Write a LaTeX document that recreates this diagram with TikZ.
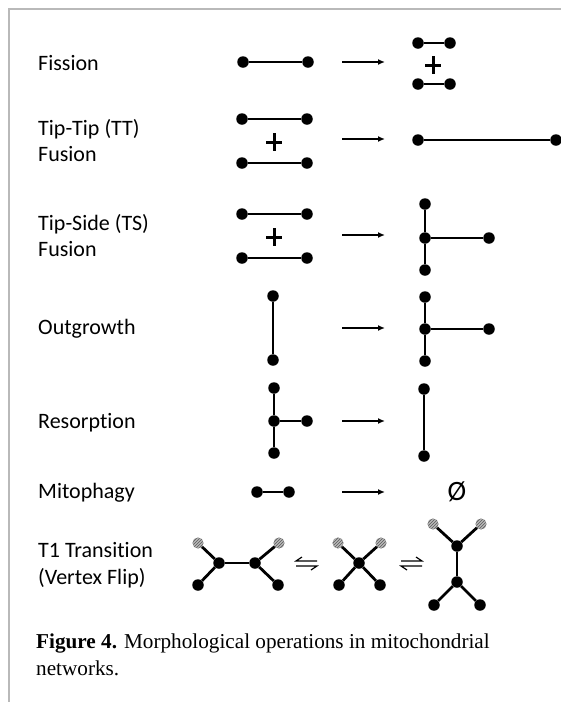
\documentclass[tikz,border=0pt]{standalone}
\usepackage{fontspec}
\setmainfont{Liberation Serif}
\newfontfamily\labelfont[Ligatures=NoCommon]{Carlito}
\usetikzlibrary{patterns,arrows.meta}

\begin{document}
\begin{tikzpicture}[x=1pt,y=-1pt,
  dot/.style={circle,fill=black,inner sep=0pt,minimum size=11.5pt},
  hdot/.style={circle,inner sep=0pt,minimum size=10.5pt,fill=gray!55,draw=gray!80,line width=0.6pt,
    postaction={pattern=north east lines,pattern color=black!65}},
  seg/.style={line width=2.8pt},
  arr/.style={-{Latex[length=7pt,width=6pt]},line width=1.8pt},
  plusmark/.style={line width=3pt},
  harp/.style={line width=1.2pt},
  lbl/.style={anchor=base west,inner sep=0pt,font=\labelfont\fontsize{22}{26}\selectfont},
  captext/.style={anchor=base west,inner sep=0pt,font=\fontsize{21.2}{25}\selectfont}
]
\useasboundingbox (0,0) rectangle (561,702);
% page frame
\draw[gray!55,line width=2pt] (9,702) -- (9,9) -- (561,9);

% ---------- labels ----------
\node[lbl] (lFis) at (38,70) {Fission};
\node[lbl] (lTT1) at (38,135) {Tip-Tip (TT)};
\node[lbl] (lTT2) at (38,161) {Fusion};
\node[lbl] (lTS1) at (38,230) {Tip-Side (TS)};
\node[lbl] (lTS2) at (38,256) {Fusion};
\node[lbl] (lOut) at (38,334) {Outgrowth};
\node[lbl] (lRes) at (38,428) {Resorption};
\node[lbl] (lMit) at (38,498) {Mitophagy};
\node[lbl] (lT11) at (38,557) {T1 Transition};
\node[lbl] (lT12) at (38,584) {(Vertex Flip)};

% ---------- arrows ----------
\foreach \n/\y in {a/62,b/139,c/235,d/328,e/421,f/492}{
  \coordinate (s\n) at (342,\y);
  \coordinate (t\n) at (385,\y);
  \draw[arr] (s\n) -- (t\n);
}

% ---------- Fission ----------
\node[dot] (fa) at (243,62) {};
\node[dot] (fb) at (308,62) {};
\draw[seg] (fa) -- (fb);
\node[dot] (fc) at (418,43) {};
\node[dot] (fd) at (450,43) {};
\draw[seg] (fc) -- (fd);
\node[dot] (fe) at (418,84) {};
\node[dot] (ff) at (450,84) {};
\draw[seg] (fe) -- (ff);
\draw[plusmark] (425,65) -- (441,65) (433,56) -- (433,74);

% ---------- Tip-Tip fusion ----------
\node[dot] (ta) at (242,119) {};
\node[dot] (tb) at (307,119) {};
\draw[seg] (ta) -- (tb);
\node[dot] (tc) at (242,163) {};
\node[dot] (td) at (307,163) {};
\draw[seg] (tc) -- (td);
\draw[plusmark] (266,142) -- (282,142) (274,133) -- (274,151);
\node[dot] (te) at (418,140) {};
\node[dot] (tf) at (556,140) {};
\draw[seg] (te) -- (tf);

% ---------- Tip-Side fusion ----------
\node[dot] (sa) at (242,214) {};
\node[dot] (sb) at (307,214) {};
\draw[seg] (sa) -- (sb);
\node[dot] (sc) at (242,258) {};
\node[dot] (sd) at (307,258) {};
\draw[seg] (sc) -- (sd);
\draw[plusmark] (266,237) -- (282,237) (274,228) -- (274,246);
\node[dot] (se) at (425,204) {};
\node[dot] (sf) at (425,238) {};
\node[dot] (sg) at (425,270) {};
\node[dot] (sh) at (489,238) {};
\draw[seg] (se) -- (sf) -- (sg);
\draw[seg] (sf) -- (sh);

% ---------- Outgrowth ----------
\node[dot] (oa) at (273,296) {};
\node[dot] (ob) at (273,360) {};
\draw[seg] (oa) -- (ob);
\node[dot] (oc) at (425,297) {};
\node[dot] (od) at (425,329) {};
\node[dot] (oe) at (425,361) {};
\node[dot] (of) at (489,329) {};
\draw[seg] (oc) -- (od) -- (oe);
\draw[seg] (od) -- (of);

% ---------- Resorption ----------
\node[dot] (ra) at (274,388) {};
\node[dot] (rb) at (274,421) {};
\node[dot] (rc) at (274,453) {};
\node[dot] (rd) at (307,421) {};
\draw[seg] (ra) -- (rb) -- (rc);
\draw[seg] (rb) -- (rd);
\node[dot] (re) at (424,389) {};
\node[dot] (rf) at (424,456) {};
\draw[seg] (re) -- (rf);

% ---------- Mitophagy ----------
\node[dot] (ma) at (257,492) {};
\node[dot] (mb) at (289,492) {};
\draw[seg] (ma) -- (mb);
\node[inner sep=0pt,font=\labelfont\fontsize{28}{30}\selectfont] (mz) at (457,492) {Ø};

% ---------- T1 transition ----------
% two vertices joined by a short edge
\node[hdot] (ah1) at (198,543) {};
\node[hdot] (ah2) at (279,543) {};
\node[dot] (avl) at (219,563) {};
\node[dot] (avr) at (255,563) {};
\node[dot] (ab1) at (198,585) {};
\node[dot] (ab2) at (278,585) {};
\draw[seg] (ah1) -- (avl) -- (ab1);
\draw[seg] (avl) -- (avr);
\draw[seg] (ah2) -- (avr) -- (ab2);
% leftwards harpoon over rightwards harpoon
\coordinate (h1a) at (296,561);
\coordinate (h1b) at (317,561);
\coordinate (h1c) at (296,566);
\coordinate (h1d) at (317,566);
\draw[harp] (h1b) -- (h1a) -- ++(6,-4);
\draw[harp] (h1c) -- (h1d) -- ++(-6,4);
% four-way vertex
\node[hdot] (bh1) at (338,543) {};
\node[hdot] (bh2) at (381,543) {};
\node[dot] (bc) at (359,563) {};
\node[dot] (bb1) at (339,585) {};
\node[dot] (bb2) at (380,585) {};
\draw[seg] (bh1) -- (bc) -- (bb2);
\draw[seg] (bh2) -- (bc) -- (bb1);
% rightwards harpoon over leftwards harpoon
\coordinate (h2a) at (401,561);
\coordinate (h2b) at (422,561);
\coordinate (h2c) at (401,566);
\coordinate (h2d) at (422,566);
\draw[harp] (h2a) -- (h2b) -- ++(-6,-4);
\draw[harp] (h2d) -- (h2c) -- ++(6,4);
% flipped edge, now vertical
\node[hdot] (ch1) at (433,524) {};
\node[hdot] (ch2) at (481,524) {};
\node[dot] (cvu) at (457,546) {};
\node[dot] (cvd) at (457,582) {};
\node[dot] (cb1) at (434,605) {};
\node[dot] (cb2) at (480,605) {};
\draw[seg] (ch1) -- (cvu) -- (ch2);
\draw[seg] (cvu) -- (cvd);
\draw[seg] (cb1) -- (cvd) -- (cb2);

% ---------- caption ----------
\node[captext] (cap1) at (36,648) {\textbf{Figure 4.} Morphological operations in mitochondrial};
\node[captext] (cap2) at (36,675) {networks.};
\end{tikzpicture}
\end{document}
